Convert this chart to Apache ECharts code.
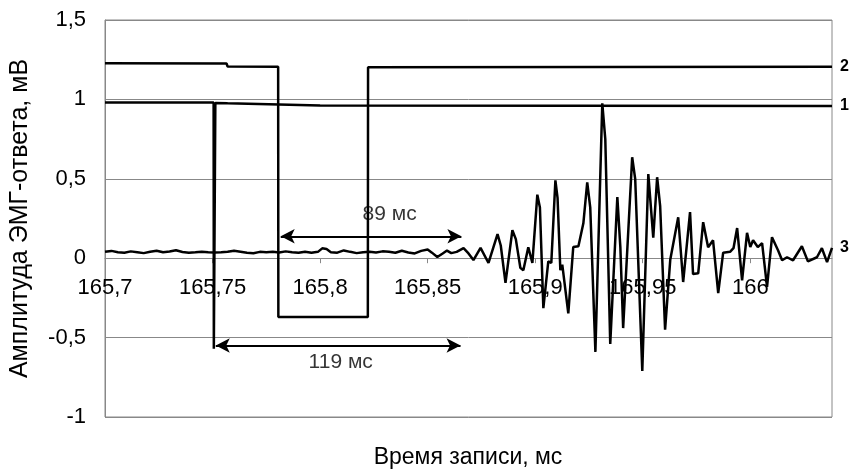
<!DOCTYPE html>
<html>
<head>
<meta charset="utf-8">
<script src="https://cdn.jsdelivr.net/npm/echarts@6/dist/echarts.min.js"></script>
<style>
html, body { margin: 0; padding: 0; background: #fff; }
#plot { width: 861px; height: 472px; }
</style>
</head>
<body>
<div id="plot"></div>
<script>
// кривая 1 (с артефактом стимула)
var trace1 = [[165.7,0.981],[165.7505,0.981],[165.7506,-0.57],[165.7512,-0.57],[165.7513,0.978],
	[165.757,0.976],[165.7575,0.965],[165.8,0.962],[166.038,0.958]];
// кривая 2 (метка)
var trace2 = [[165.7,1.228],[165.7565,1.226],[165.757,1.207],[165.7805,1.205],[165.7806,-0.37],
	[165.8222,-0.37],[165.8223,1.203],[166.038,1.205]];
// кривая 3 (ЭМГ-ответ)
var trace3 = [[165.700,0.040],[165.703,0.046],[165.706,0.038],[165.709,0.034],[165.712,0.043],[165.715,0.038],
	[165.718,0.032],[165.721,0.040],[165.724,0.047],[165.727,0.037],[165.730,0.042],[165.733,0.050],[165.736,0.039],
	[165.739,0.034],[165.742,0.037],[165.745,0.041],[165.748,0.038],[165.751,0.036],[165.754,0.037],[165.757,0.040],
	[165.760,0.047],[165.763,0.041],[165.766,0.035],[165.769,0.031],[165.772,0.040],[165.775,0.038],[165.778,0.041],
	[165.781,0.036],[165.784,0.043],[165.787,0.038],[165.790,0.034],[165.793,0.041],[165.796,0.034],[165.799,0.040],
	[165.801,0.062],[165.803,0.058],[165.805,0.038],[165.808,0.035],[165.811,0.049],[165.814,0.040],[165.817,0.032],
	[165.820,0.038],[165.823,0.041],[165.826,0.036],[165.829,0.043],[165.832,0.040],[165.835,0.034],[165.838,0.047],
	[165.841,0.036],[165.844,0.030],[165.847,0.046],[165.850,0.055],[165.852,0.035],[165.8545,0.008],[165.857,0.030],
	[165.859,0.048],[165.861,0.032],[165.8635,0.040],[165.8667,0.063],[165.869,0.030],[165.8713,-0.012],[165.8746,0.065],
	[165.8783,-0.030],[165.8825,0.152],[165.8840,0.080],[165.8862,-0.155],[165.8894,0.176],[165.8910,0.120],
	[165.8931,-0.060],[165.8945,-0.076],[165.8968,0.069],[165.8987,-0.030],[165.9010,0.400],[165.9022,0.320],
	[165.9038,-0.315],[165.9061,-0.020],[165.9075,-0.030],[165.9094,0.490],[165.9104,0.380],[165.9117,-0.075],
	[165.9126,-0.040],[165.9154,-0.347],[165.9177,0.070],[165.9201,0.075],[165.9224,0.220],[165.9242,0.478],
	[165.9256,0.320],[165.9280,-0.590],[165.9312,0.975],[165.9326,0.750],[165.9349,-0.540],[165.9382,0.385],
	[165.9396,0.070],[165.9409,-0.440],[165.9451,0.636],[165.9465,0.500],[165.9498,-0.710],[165.9526,0.530],
	[165.9549,0.130],[165.9567,0.510],[165.9581,0.330],[165.9604,-0.450],[165.9628,-0.010],[165.9665,0.258],
	[165.9688,-0.150],[165.9720,0.290],[165.9734,-0.100],[165.9758,-0.095],[165.9781,0.227],[165.9804,0.069],
	[165.9827,0.113],[165.9851,-0.220],[165.9874,0.035],[165.9906,0.040],[165.9922,0.063],[165.9939,0.190],
	[165.9962,-0.140],[165.9985,0.160],[166.0000,0.070],[166.0013,0.113],[166.0035,0.070],[166.0055,0.095],
	[166.0078,-0.180],[166.0101,0.132],[166.0129,0.050],[166.0148,-0.013],[166.0171,0.006],[166.0199,-0.013],
	[166.0240,0.075],[166.0268,-0.020],[166.0310,0.006],[166.0333,0.063],[166.0357,-0.025],[166.0380,0.065]];
var traceNames = ['1', '2', '3'];
// стрелки: [начало, конец, уровень]
var arrowSpans = [[165.7817, 165.8657, 0.138], [165.7515, 165.8653, -0.55]];
var arrowTexts = [[165.8323, 0.277, '89 мс'], [165.8096, -0.655, '119 мс']];

var FONT = 'Liberation Sans, Arial, sans-serif';
function comma (v) {
	return String(+v.toFixed(3)).replace('.', ',');
}
function traceSeries (name, data) {
	return {
		name: name,
		type: 'line',
		data: data,
		showSymbol: false,
		symbol: 'none',
		lineStyle: { color: '#000', width: 2.5 },
		endLabel: { show: true, formatter: name, distance: 8, color: '#000', fontWeight: 'bold', fontSize: 16, fontFamily: FONT },
		z: 3
	};
}

var arrowLines = arrowSpans.map(function (a) {
	return [{ coord: [a[0], a[2]] }, { coord: [a[1], a[2]] }];
});

var option = {
	animation: false,
	grid: { left: 104, right: 29, top: 20, bottom: 55, show: true, borderColor: '#888', borderWidth: 1 },
	xAxis: {
		type: 'value',
		min: 165.7,
		max: 166.038,
		interval: 0.05,
		// ось X проходит через ноль оси Y
		offset: -158.8,
		axisLine: { onZero: false, lineStyle: { color: '#888' } },
		axisTick: { show: true, length: 5, lineStyle: { color: '#888' } },
		axisLabel: { formatter: comma, color: '#000', fontSize: 22, fontFamily: FONT, margin: 19, showMaxLabel: false },
		splitLine: { show: false }
	},
	yAxis: {
		type: 'value',
		min: -1,
		max: 1.5,
		interval: 0.5,
		name: 'Амплитуда ЭМГ-ответа, мВ',
		nameLocation: 'middle',
		nameGap: 72,
		nameTextStyle: { color: '#000', fontSize: 25, fontFamily: FONT },
		axisLine: { show: true, lineStyle: { color: '#888' } },
		axisTick: { show: false },
		axisLabel: { formatter: comma, color: '#000', fontSize: 22, fontFamily: FONT, margin: 19 },
		splitLine: { show: true, lineStyle: { color: '#888', width: 1 } }
	},
	graphic: [{
		type: 'text',
		x: 468,
		y: 458,
		style: { text: 'Время записи, мс', fill: '#000', font: '23px ' + FONT, textAlign: 'center', textVerticalAlign: 'middle' }
	}],
	series: [
		traceSeries(traceNames[0], trace1),
		traceSeries(traceNames[1], trace2),
		traceSeries(traceNames[2], trace3),
		{
			type: 'scatter',
			data: arrowTexts,
			symbolSize: 0,
			silent: true,
			label: {
				show: true,
				position: 'inside',
				formatter: function (p) { return p.value[2]; },
				color: '#000',
				fontSize: 21,
				fontFamily: FONT
			},
			markLine: {
				silent: true,
				symbol: ['arrow', 'arrow'],
				symbolSize: [11, 14],
				label: { show: false },
				lineStyle: { color: '#000', width: 2, type: 'solid' },
				data: arrowLines
			}
		}
	]
};

var myChart = echarts.init(document.getElementById('plot'));
myChart.setOption(option);
</script>
</body>
</html>
